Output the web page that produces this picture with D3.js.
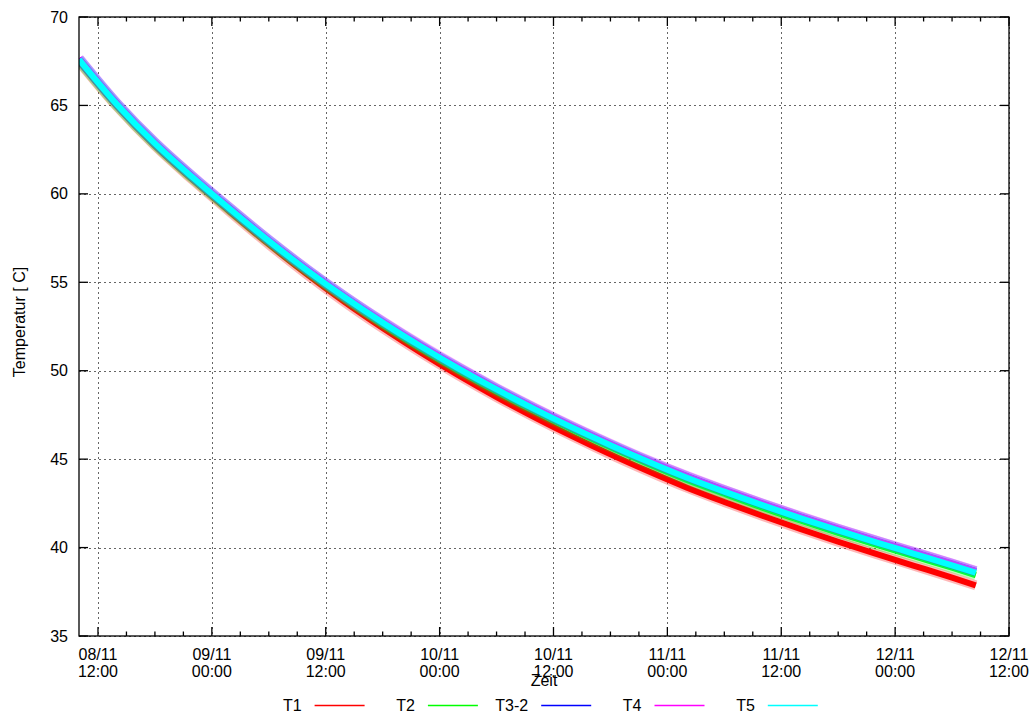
<!DOCTYPE html>
<html>
<head>
<meta charset="utf-8">
<script src="https://cdn.jsdelivr.net/npm/d3@7"></script>
<style>
  html, body { margin: 0; padding: 0; background: #fff; }
  svg { display: block; font-family: "Liberation Sans", Arial, Helvetica, sans-serif; }
</style>
</head>
<body>
<svg id="chart" width="1034" height="713"></svg>
<script>
// Sample times (day/month hour:minute, November)
const times = [
  "08/11 10:00", "08/11 14:00", "08/11 18:00", "08/11 22:00",
  "09/11 02:00", "09/11 06:00", "09/11 10:00", "09/11 14:00", "09/11 18:00", "09/11 22:00",
  "10/11 02:00", "10/11 06:00", "10/11 10:00", "10/11 14:00", "10/11 18:00", "10/11 22:00",
  "11/11 02:00", "11/11 06:00", "11/11 10:00", "11/11 14:00", "11/11 18:00", "11/11 22:00",
  "12/11 02:00", "12/11 06:00", "12/11 08:30"
];

// Sensor temperatures in °C
const T1   = [67.48, 64.94, 62.72, 60.78, 58.94, 57.15, 55.46, 53.88, 52.41, 51.03, 49.73, 48.51, 47.37, 46.29, 45.27, 44.31, 43.40, 42.58, 41.80, 41.05, 40.33, 39.64, 38.97, 38.30, 37.86];
const T2   = [67.52, 64.98, 62.77, 60.84, 59.02, 57.26, 55.61, 54.07, 52.62, 51.28, 50.02, 48.84, 47.73, 46.66, 45.67, 44.73, 43.84, 43.04, 42.26, 41.53, 40.83, 40.16, 39.51, 38.86, 38.44];
const T3_2 = [67.65, 65.11, 62.90, 60.97, 59.15, 57.39, 55.74, 54.20, 52.77, 51.43, 50.17, 48.99, 47.88, 46.83, 45.84, 44.90, 44.04, 43.24, 42.48, 41.75, 41.05, 40.38, 39.73, 39.08, 38.66];
const T4   = [67.66, 65.12, 62.91, 60.98, 59.16, 57.40, 55.75, 54.21, 52.80, 51.46, 50.20, 49.02, 47.91, 46.86, 45.87, 44.93, 44.06, 43.26, 42.50, 41.77, 41.07, 40.40, 39.75, 39.10, 38.68];
const T5   = [67.60, 65.06, 62.85, 60.92, 59.10, 57.34, 55.69, 54.15, 52.72, 51.38, 50.12, 48.94, 47.83, 46.78, 45.79, 44.85, 43.96, 43.16, 42.40, 41.67, 40.97, 40.30, 39.65, 39.00, 38.58];

const seriesNames  = ["T1", "T2", "T3-2", "T4", "T5"];
const seriesValues = [T1, T2, T3_2, T4, T5];
const seriesColors = ["#ff0000", "#00ff00", "#0000ff", "#ff00ff", "#00ffff"];

// Axis setup
const xStart = "08/11 10:00";
const xEnd = "12/11 12:00";
const xTicks = ["08/11 12:00", "09/11 00:00", "09/11 12:00", "10/11 00:00", "10/11 12:00",
                "11/11 00:00", "11/11 12:00", "12/11 00:00", "12/11 12:00"];
const yTicks = [35, 40, 45, 50, 55, 60, 65, 70];

const parse = s => d3.timeParse("%d/%m/%Y %H:%M")(s.replace(" ", "/2011 "));

const plot = { left: 79, right: 1009, top: 17, bottom: 636 };

const x = d3.scaleTime()
  .domain([parse(xStart), parse(xEnd)])
  .range([plot.left, plot.right]);
const y = d3.scaleLinear()
  .domain([35, 70])
  .range([plot.bottom, plot.top]);

const svg = d3.select("#chart");

// Grid
const grid = svg.append("g")
  .attr("stroke", "#666")
  .attr("stroke-width", 1)
  .attr("stroke-dasharray", "2,3");
xTicks.map(parse).forEach(t => {
  const px = Math.round(x(t)) + 0.5;
  grid.append("line").attr("x1", px).attr("x2", px).attr("y1", plot.top).attr("y2", plot.bottom);
});
yTicks.forEach(v => {
  const py = Math.round(y(v)) + 0.5;
  grid.append("line").attr("x1", plot.left).attr("x2", plot.right).attr("y1", py).attr("y2", py);
});

// Curves
svg.append("clipPath").attr("id", "clip")
  .append("rect")
  .attr("x", plot.left).attr("y", plot.top)
  .attr("width", plot.right - plot.left).attr("height", plot.bottom - plot.top);

const line = d3.line()
  .x((d, i) => x(parse(times[i])))
  .y(d => y(d))
  .curve(d3.curveMonotoneX);

const curves = svg.append("g").attr("clip-path", "url(#clip)");
seriesValues.forEach((vals, k) => {
  curves.append("path")
    .attr("d", line(vals))
    .attr("fill", "none")
    .attr("stroke", seriesColors[k])
    .attr("stroke-opacity", 0.28)
    .attr("stroke-width", 10)
    .attr("stroke-linejoin", "round");
  curves.append("path")
    .attr("d", line(vals))
    .attr("fill", "none")
    .attr("stroke", seriesColors[k])
    .attr("stroke-width", 6)
    .attr("stroke-linejoin", "round");
});

// Frame
svg.append("rect")
  .attr("x", plot.left).attr("y", plot.top)
  .attr("width", plot.right - plot.left).attr("height", plot.bottom - plot.top)
  .attr("fill", "none").attr("stroke", "#000").attr("stroke-width", 1.3);

// Tick marks (inside, mirrored on all four sides)
const ticks = svg.append("g").attr("stroke", "#000").attr("stroke-width", 1.3);
const majorLen = 9, minorLen = 4.5;
x.ticks(d3.timeHour.every(3)).forEach(t => {
  const px = x(t);
  const major = t.getHours() % 12 === 0;
  const len = major ? majorLen : minorLen;
  ticks.append("line").attr("x1", px).attr("x2", px).attr("y1", plot.bottom).attr("y2", plot.bottom - len);
  ticks.append("line").attr("x1", px).attr("x2", px).attr("y1", plot.top).attr("y2", plot.top + len);
});
yTicks.forEach(v => {
  const py = y(v);
  ticks.append("line").attr("x1", plot.left).attr("x2", plot.left + majorLen).attr("y1", py).attr("y2", py);
  ticks.append("line").attr("x1", plot.right).attr("x2", plot.right - majorLen).attr("y1", py).attr("y2", py);
});

// Tick labels
const fmtDay = d3.timeFormat("%d/%m");
const fmtHour = d3.timeFormat("%H:%M");
const xLab = svg.append("g").attr("font-size", 16).attr("fill", "#000").attr("text-anchor", "middle");
xTicks.map(parse).forEach(t => {
  const px = x(t);
  xLab.append("text").attr("x", px).attr("y", plot.bottom + 24).text(fmtDay(t));
  xLab.append("text").attr("x", px).attr("y", plot.bottom + 41).text(fmtHour(t));
});
const yLab = svg.append("g").attr("font-size", 16).attr("fill", "#000").attr("text-anchor", "end");
yTicks.forEach(v => {
  yLab.append("text").attr("x", 68).attr("y", y(v)).attr("dy", "0.35em").text(v);
});

// Axis titles
svg.append("text")
  .attr("x", (plot.left + plot.right) / 2).attr("y", 686)
  .attr("text-anchor", "middle").attr("font-size", 16)
  .text("Zeit");
svg.append("text")
  .attr("transform", "translate(25,322) rotate(-90)")
  .attr("text-anchor", "middle").attr("font-size", 16)
  .text("Temperatur [ C]");

// Legend
const legend = svg.append("g").attr("font-size", 16);
seriesNames.forEach((name, k) => {
  const lx = 314.6 + k * 113.3;
  legend.append("text")
    .attr("x", lx - 13).attr("y", 711)
    .attr("text-anchor", "end")
    .text(name);
  legend.append("line")
    .attr("x1", lx).attr("x2", lx + 50)
    .attr("y1", 705.5).attr("y2", 705.5)
    .attr("stroke", seriesColors[k]).attr("stroke-width", 1.3);
});
</script>
</body>
</html>
